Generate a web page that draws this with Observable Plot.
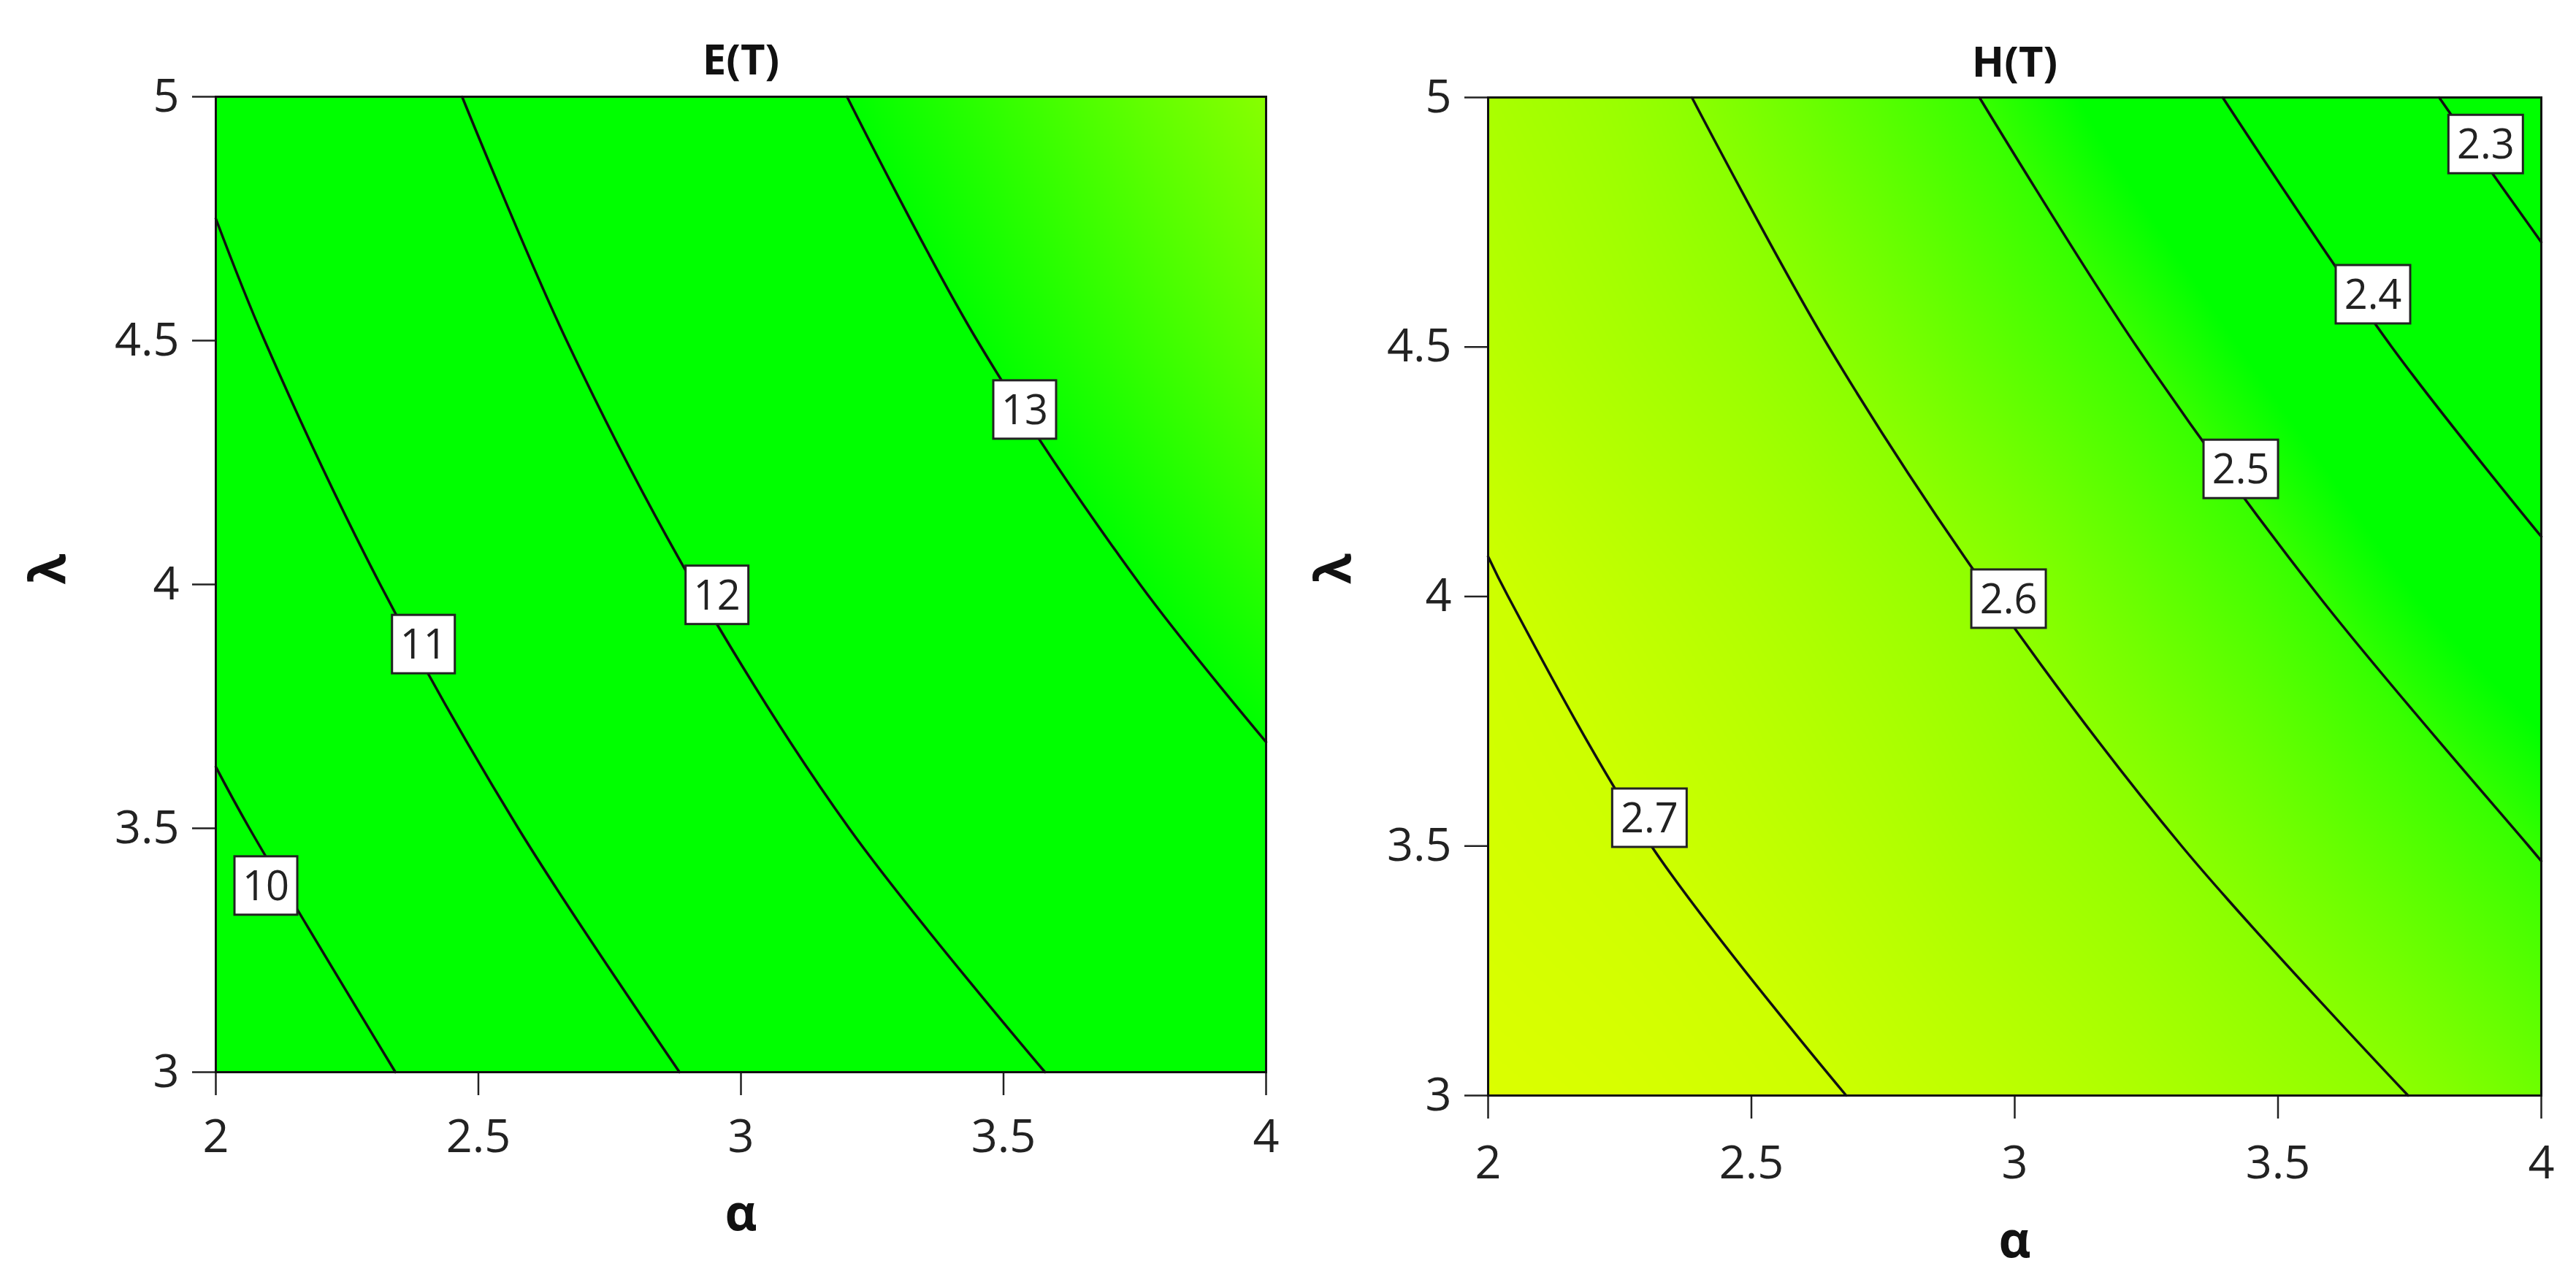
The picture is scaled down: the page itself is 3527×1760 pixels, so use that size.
<!DOCTYPE html>
<html><head><meta charset="utf-8">
<script src="https://cdn.jsdelivr.net/npm/d3@7"></script>
<script src="https://cdn.jsdelivr.net/npm/@observablehq/plot@0.6"></script>
<style>
html,body{margin:0;padding:0;background:#fff;}
#wrap{position:relative;width:3527px;height:1760px;overflow:hidden;}
#left,#right{position:absolute;top:0;}
#left{left:0;} #right{left:1763px;}
g[aria-label$="-axis tick"], g[aria-label$="-axis tick"] path, .tick line{stroke-width:2.5px;}
</style></head><body><div id="wrap"><div id="left"></div><div id="right"></div></div>
<script>
// grid of parameter values (for the colour field)
const alphaGrid = [2, 2.25, 2.5, 2.75, 3, 3.25, 3.5, 3.75, 4];
const lambdaGrid = [3, 3.5, 4, 4.5, 5];

// E(T) values (rows = lambda, columns = alpha)
const eValues = [
  [9.38, 9.85, 10.29, 10.75, 11.17, 11.53, 11.89, 12.21, 12.53],
  [9.88, 10.36, 10.85, 11.27, 11.67, 12.05, 12.36, 12.62, 12.85],
  [10.35, 10.89, 11.31, 11.73, 12.10, 12.40, 12.70, 12.99, 13.27],
  [10.79, 11.27, 11.71, 12.11, 12.43, 12.76, 13.07, 13.37, 13.65],
  [11.20, 11.63, 12.04, 12.38, 12.72, 13.06, 13.37, 13.67, 13.95]
];
// H(T) values
const hValues = [
  [2.750, 2.737, 2.716, 2.693, 2.674, 2.651, 2.625, 2.600, 2.564],
  [2.724, 2.706, 2.685, 2.662, 2.634, 2.607, 2.572, 2.534, 2.495],
  [2.704, 2.680, 2.657, 2.630, 2.598, 2.556, 2.513, 2.463, 2.418],
  [2.670, 2.645, 2.618, 2.582, 2.539, 2.496, 2.445, 2.392, 2.332],
  [2.646, 2.620, 2.579, 2.534, 2.486, 2.431, 2.374, 2.314, 2.248]
];

// contour lines: level, alpha points, lambda points
const eContourLevels = [10, 11, 12, 13];
const eContourAlpha = [
  [2.000, 2.064, 2.342],
  [2.000, 2.093, 2.313, 2.576, 2.883],
  [2.469, 2.668, 2.910, 3.206, 3.579],
  [3.202, 3.450, 3.760, 4.000]
];
const eContourLambda = [
  [3.626, 3.5, 3.0],
  [4.75, 4.5, 4.0, 3.5, 3.0],
  [5.0, 4.5, 4.0, 3.5, 3.0],
  [5.0, 4.5, 4.0, 3.677]
];
const hContourLevels = [2.3, 2.4, 2.5, 2.6, 2.7];
const hContourAlpha = [
  [3.806, 3.872, 4.000],
  [3.395, 3.716, 4.000],
  [2.933, 3.232, 3.578, 3.976, 4.000],
  [2.387, 2.647, 2.957, 3.317, 3.747],
  [2.000, 2.038, 2.310, 2.680]
];
const hContourLambda = [
  [5.0, 4.9, 4.71],
  [5.0, 4.5, 4.12],
  [5.0, 4.5, 4.0, 3.5, 3.47],
  [5.0, 4.5, 4.0, 3.5, 3.0],
  [4.08, 4.0, 3.5, 3.0]
];

const eLabelText = ["10", "11", "12", "13"];
const eLabelAlpha = [2.096, 2.396, 2.955, 3.541];
const eLabelLambda = [3.382, 3.877, 3.978, 4.358];

const hLabelText = ["2.3", "2.4", "2.5", "2.6", "2.7"];
const hLabelAlpha = [3.895, 3.681, 3.430, 2.989, 2.307];
const hLabelLambda = [4.906, 4.605, 4.255, 3.995, 3.556];

const xTicks = [2, 2.5, 3, 3.5, 4];
const yTicks = [3, 3.5, 4, 4.5, 5];

const eColorDomain = [13, 14];
const eColorRange = ["#00ff00", "#8fff00"];
const hColorDomain = [2.46, 2.5, 2.6, 2.7, 2.78];
const hColorRange = ["#00ff00", "#38ff00", "#8cff00", "#ccff00", "#e4ff00"];

function toPoints(values) {
  const pts = [];
  lambdaGrid.forEach((l, i) => alphaGrid.forEach((a, j) => pts.push({a, l, v: values[i][j]})));
  return pts;
}
function toLines(levels, A, L) {
  const out = [];
  levels.forEach((lev, k) => A[k].forEach((a, i) => out.push({level: lev, a, l: L[k][i]})));
  return out;
}
function toLabels(t, a, l) { return t.map((s, i) => ({t: s, a: a[i], l: l[i]})); }

// smooth (Catmull-Rom bicubic) interpolation of the regular sample grid for the raster
function bicubic(index, w, h, X, Y, V) {
  const r = v => Math.round(v * 1e4) / 1e4;
  const xs = Array.from(new Set(Array.from(index, i => r(X[i])))).sort((a, b) => a - b);
  const ys = Array.from(new Set(Array.from(index, i => r(Y[i])))).sort((a, b) => a - b);
  const nx = xs.length, ny = ys.length;
  const G = new Float64Array(nx * ny);
  for (const i of index) G[ys.indexOf(r(Y[i])) * nx + xs.indexOf(r(X[i]))] = V[i];
  const at = (ix, iy) => {
    if (ix < 0) return 2 * at(0, iy) - at(1, iy);
    if (ix > nx - 1) return 2 * at(nx - 1, iy) - at(nx - 2, iy);
    if (iy < 0) return 2 * at(ix, 0) - at(ix, 1);
    if (iy > ny - 1) return 2 * at(ix, ny - 1) - at(ix, ny - 2);
    return G[iy * nx + ix];
  };
  const cr = (p0, p1, p2, p3, t) =>
    0.5 * (2 * p1 + (-p0 + p2) * t + (2 * p0 - 5 * p1 + 4 * p2 - p3) * t * t + (-p0 + 3 * p1 - 3 * p2 + p3) * t * t * t);
  const dx = (xs[nx - 1] - xs[0]) / (nx - 1), dy = (ys[ny - 1] - ys[0]) / (ny - 1);
  const out = new Float64Array(w * h);
  for (let py = 0; py < h; ++py) {
    const v = (py + 0.5 - ys[0]) / dy;
    const iy = Math.max(0, Math.min(ny - 2, Math.floor(v)));
    const ty = v - iy;
    for (let px = 0; px < w; ++px) {
      const u = (px + 0.5 - xs[0]) / dx;
      const ix = Math.max(0, Math.min(nx - 2, Math.floor(u)));
      const tx = u - ix;
      const rows = [];
      for (let k = -1; k <= 2; ++k) {
        rows.push(cr(at(ix - 1, iy + k), at(ix, iy + k), at(ix + 1, iy + k), at(ix + 2, iy + k), tx));
      }
      out[py * w + px] = cr(rows[0], rows[1], rows[2], rows[3], ty);
    }
  }
  return out;
}

const FONT = "'Open Sans', 'Noto Sans', sans-serif";

function boxLabels(labels) {
  return (index, scales) => {
    const g = d3.create("svg:g");
    for (const d of labels) {
      const cx = scales.x(d.a), cy = scales.y(d.l);
      const w = d.t.length > 2 ? 102 : 86, h = 80;
      g.append("rect").attr("x", cx - w / 2).attr("y", cy - h / 2)
        .attr("width", w).attr("height", h)
        .attr("fill", "#fff").attr("stroke", "#222").attr("stroke-width", 3);
      g.append("text").attr("x", cx).attr("y", cy).attr("dy", "0.36em")
        .attr("text-anchor", "middle").attr("font-size", 56)
        .attr("font-family", FONT).attr("fill", "#222").text(d.t);
    }
    return g.node();
  };
}

function panel(cfg) {
  const pts = toPoints(cfg.values);
  return Plot.plot({
    width: cfg.width, height: 1760,
    marginLeft: cfg.ml, marginRight: cfg.mr, marginTop: cfg.mt, marginBottom: cfg.mb,
    style: {fontFamily: FONT, fontSize: "63px", color: "#222", background: "#fff"},
    x: {domain: [2, 4], ticks: xTicks, tickSize: 32, tickPadding: cfg.xpad, label: null, tickFormat: d => String(d)},
    y: {domain: [3, 5], ticks: yTicks, tickSize: 32, tickPadding: 18, label: null, tickFormat: d => String(d)},
    color: {type: "linear", domain: cfg.cdomain, range: cfg.crange, clamp: true},
    marks: [
      Plot.raster(pts, {x: "a", y: "l", fill: "v", interpolate: bicubic, x1: 2, x2: 4, y1: 3, y2: 5, pixelSize: 2}),
      Plot.line(cfg.lines, {x: "a", y: "l", z: "level", curve: "catmull-rom", stroke: "#111", strokeWidth: 3.5}),
      Plot.frame({stroke: "#111", strokeWidth: 3}),
      boxLabels(cfg.labels),
      Plot.text([cfg.title], {text: d => d, frameAnchor: "top", lineAnchor: "middle", dy: cfg.titleDy, fontSize: 58, fontWeight: "bold", fill: "#111"}),
      Plot.text(["α"], {text: d => d, frameAnchor: "bottom", lineAnchor: "middle", dy: cfg.alphaDy, fontSize: 68, fontWeight: "bold", fill: "#111"}),
      Plot.text(["λ"], {text: d => d, frameAnchor: "left", lineAnchor: "middle", dx: cfg.lamDx, dy: cfg.lamDy, rotate: -90, fontSize: 68, fontWeight: "bold", fill: "#111"})
    ]
  });
}

document.getElementById("left").append(panel({
  values: eValues, lines: toLines(eContourLevels, eContourAlpha, eContourLambda),
  labels: toLabels(eLabelText, eLabelAlpha, eLabelLambda),
  width: 1763, ml: 295, mr: 30, mt: 132, mb: 292, xpad: 33,
  cdomain: eColorDomain, crange: eColorRange,
  title: "E(T)", titleDy: -49, alphaDy: 195, lamDx: -228, lamDy: 0
}));
document.getElementById("right").append(panel({
  values: hValues, lines: toLines(hContourLevels, hContourAlpha, hContourLambda),
  labels: toLabels(hLabelText, hLabelAlpha, hLabelLambda),
  width: 1764, ml: 274, mr: 48, mt: 133, mb: 260, xpad: 37,
  cdomain: hColorDomain, crange: hColorRange,
  title: "H(T)", titleDy: -47, alphaDy: 200, lamDx: -210, lamDy: -17
}));
</script></body></html>
